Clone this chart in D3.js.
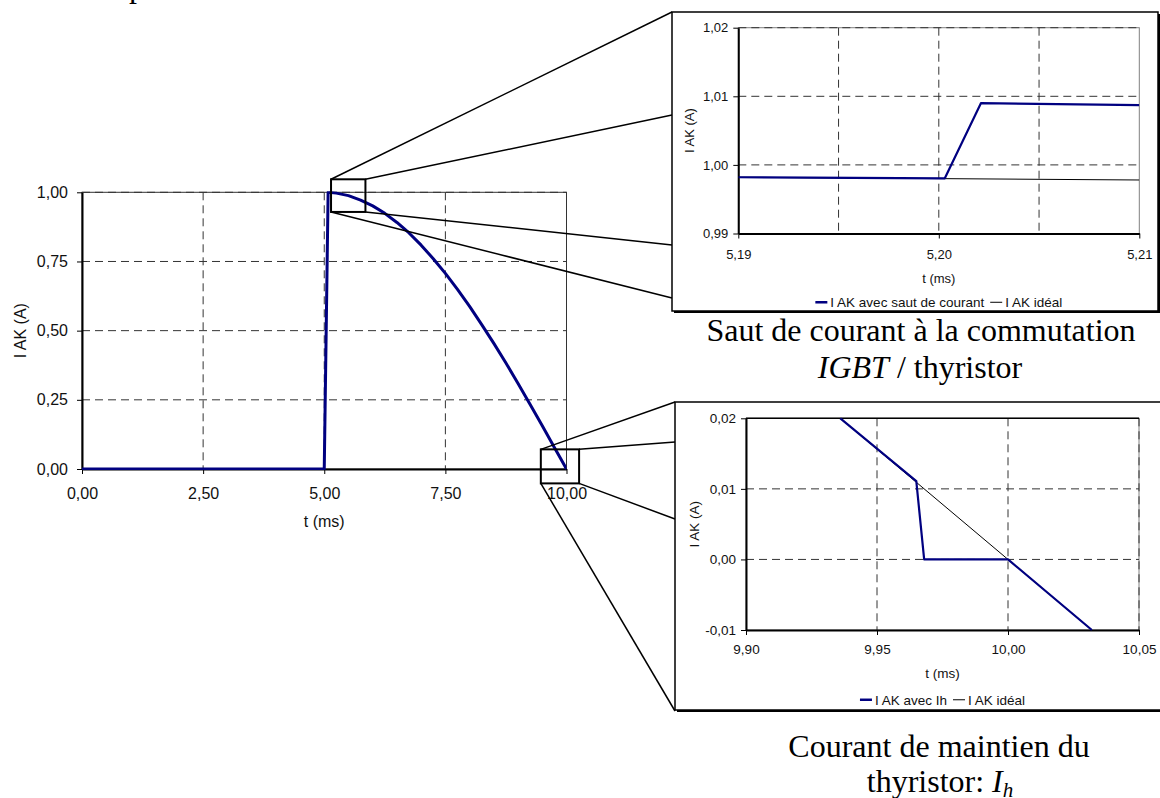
<!DOCTYPE html>
<html>
<head>
<meta charset="utf-8">
<script src="https://cdn.jsdelivr.net/npm/d3@7"></script>
<style>
  html, body { margin: 0; padding: 0; background: #fff; }
  svg { display: block; }
</style>
</head>
<body>
<div id="chart"></div>
<script>
// Main chart: I AK over one half period (t in ms)
const mainT = [0, 5.00, 5.08, 5.25, 5.50, 5.75, 6.00, 6.25, 6.50, 6.75, 7.00, 7.25, 7.50,
               7.75, 8.00, 8.25, 8.50, 8.75, 9.00, 9.25, 9.50, 9.75, 10.00];
const mainI = [0, 0.000, 1.000, 0.997, 0.988, 0.972, 0.951, 0.924, 0.891, 0.853, 0.809, 0.760, 0.707,
               0.649, 0.588, 0.522, 0.454, 0.383, 0.309, 0.233, 0.156, 0.078, 0.000];
const mainXTicks = [0, 2.5, 5, 7.5, 10];
const mainYTicks = [0, 0.25, 0.5, 0.75, 1];

// Zoom 1: current jump at IGBT / thyristor commutation
const jumpT = [5.19, 5.2003, 5.2021, 5.21];
const jumpI = [0.9982, 0.99805, 1.0090, 1.0087];
const ideal1T = [5.19, 5.21];
const ideal1I = [0.9982, 0.9978];
const z1XTicks = [5.19, 5.20, 5.21];
const z1XGrid = [5.195, 5.20, 5.205];
const z1YTicks = [0.99, 1.00, 1.01, 1.02];

// Zoom 2: holding current Ih
const holdT = [9.936, 9.965, 9.968, 10.000, 10.032];
const holdI = [0.020, 0.0111, 0.000, 0.000, -0.010];
const ideal2T = [9.936, 10.032];
const ideal2I = [0.020, -0.010];
const z2XTicks = [9.90, 9.95, 10.00, 10.05];
const z2YTicks = [-0.01, 0.00, 0.01, 0.02];

const legend1 = ["I AK avec saut de courant", "I AK idéal"];
const legend2 = ["I AK avec Ih", "I AK idéal"];

const fmt = d3.formatLocale({decimal: ",", thousands: ".", grouping: [3], currency: ["", ""], minus: "-"}).format(".2f");

const W = 1160, H = 798;
const svg = d3.select("#chart").append("svg")
    .attr("width", W).attr("height", H)
    .style("font-family", "'Liberation Sans', Arial, sans-serif");
svg.append("rect").attr("width", W).attr("height", H).attr("fill", "#fff");

const BLUE = "#000080";
let clipId = 0;

function panel(o) {
    const g = svg.append("g");
    const x = d3.scaleLinear(o.xDomain, [o.left, o.right]);
    const y = d3.scaleLinear(o.yDomain, [o.bottom, o.top]);

    // plot border (top / right)
    g.append("rect")
        .attr("x", o.left).attr("y", o.top)
        .attr("width", o.right - o.left).attr("height", o.bottom - o.top)
        .attr("fill", "none").attr("stroke", o.borderColor || "#808080").attr("stroke-width", 1);

    // dashed grid
    g.append("g").selectAll("line").data(o.xGrid).join("line")
        .attr("x1", d => x(d)).attr("x2", d => x(d))
        .attr("y1", o.top).attr("y2", o.bottom)
        .attr("stroke", "#333").attr("stroke-width", 1).attr("stroke-dasharray", o.dash);
    g.append("g").selectAll("line").data(o.yGrid).join("line")
        .attr("x1", o.left).attr("x2", o.right)
        .attr("y1", d => y(d)).attr("y2", d => y(d))
        .attr("stroke", "#333").attr("stroke-width", 1).attr("stroke-dasharray", o.dash);

    if (o.topSolid) {
        g.append("line").attr("x1", o.left).attr("x2", o.right)
            .attr("y1", o.top).attr("y2", o.top)
            .attr("stroke", "#000").attr("stroke-width", 1.5);
    }

    const id = "clip" + (clipId++);
    g.append("clipPath").attr("id", id).append("rect")
        .attr("x", o.left).attr("y", o.top - 1)
        .attr("width", o.right - o.left).attr("height", o.bottom - o.top + 2);

    const line = d3.line().x(d => x(d[0])).y(d => y(d[1]));
    o.series.forEach(s => {
        g.append("path")
            .datum(d3.zip(s.t, s.v))
            .attr("clip-path", `url(#${id})`)
            .attr("fill", "none")
            .attr("stroke", s.color)
            .attr("stroke-width", s.width)
            .attr("stroke-linejoin", "round")
            .attr("d", line);
    });

    // axes
    const xa = g.append("g").attr("transform", `translate(0,${o.bottom})`)
        .call(d3.axisBottom(x).tickValues(o.xTicks).tickFormat(fmt)
            .tickSize(5).tickSizeOuter(0).tickPadding(o.xPad));
    const ya = g.append("g").attr("transform", `translate(${o.left},0)`)
        .call(d3.axisLeft(y).tickValues(o.yTicks).tickFormat(fmt)
            .tickSize(5).tickSizeOuter(0).tickPadding(o.yPad));
    [xa, ya].forEach(a => {
        a.select(".domain").attr("stroke", "#000").attr("stroke-width", 2);
        a.selectAll(".tick line").attr("stroke", "#000").attr("stroke-width", 1);
        a.selectAll(".tick text").attr("fill", "#111")
            .style("font-family", "'Liberation Sans', Arial, sans-serif")
            .style("font-size", o.fontSize + "px");
    });
    xa.raise();

    // redraw series over the axis line
    g.selectAll("path[clip-path]").raise();

    g.append("text")
        .attr("x", (o.left + o.right) / 2).attr("y", o.xLabelY)
        .attr("text-anchor", "middle").attr("font-size", o.fontSize).attr("fill", "#111")
        .text("t (ms)");
    g.append("text")
        .attr("transform", `translate(${o.yLabelX},${(o.top + o.bottom) / 2}) rotate(-90)`)
        .attr("text-anchor", "middle").attr("font-size", o.fontSize).attr("fill", "#111")
        .text("I AK (A)");

    return {x, y, g};
}

function frame(x0, y0, x1, y1) {
    svg.append("rect").attr("x", x0 + 2).attr("y", y0 + 2)
        .attr("width", x1 - x0).attr("height", y1 - y0).attr("fill", "#000");
    svg.append("rect").attr("x", x0).attr("y", y0)
        .attr("width", x1 - x0).attr("height", y1 - y0)
        .attr("fill", "#fff").attr("stroke", "#000").attr("stroke-width", 1.5);
}

function legend(cx, y, labels, fontSize) {
    const g = svg.append("g");
    const colors = [BLUE, "#000"];
    const widths = [2.5, 1];
    let xpos = 0;
    labels.forEach((lab, i) => {
        g.append("line").attr("x1", xpos).attr("x2", xpos + 12)
            .attr("y1", y - fontSize * 0.35).attr("y2", y - fontSize * 0.35)
            .attr("stroke", colors[i]).attr("stroke-width", widths[i]);
        const t = g.append("text").attr("x", xpos + 15).attr("y", y)
            .attr("font-size", fontSize).attr("fill", "#111").text(lab);
        xpos += 15 + t.node().getComputedTextLength() + 6;
    });
    const w = xpos - 6;
    g.attr("transform", `translate(${cx - w / 2},0)`);
}

// ---------- main chart ----------
const main = panel({
    xDomain: [0, 10], yDomain: [0, 1],
    left: 82, right: 566.5, top: 192.3, bottom: 469,
    xTicks: mainXTicks, yTicks: mainYTicks,
    xGrid: [2.5, 5, 7.5], yGrid: [0.25, 0.5, 0.75, 1],
    dash: "8,5", fontSize: 16, xPad: 13.5, yPad: 9,
    xLabelY: 527, yLabelX: 26, borderColor: "#333",
    series: [
        {t: mainT, v: mainI, color: BLUE, width: 3}
    ]
});

// zoom boxes on the main chart
const box1 = {t0: 5.14, t1: 5.85, i0: 0.929, i1: 1.047};
const box2 = {t0: 9.47, t1: 10.26, i0: -0.052, i1: 0.071};

function zoomBox(b, targets) {
    const x0 = main.x(b.t0), x1 = main.x(b.t1), y0 = main.y(b.i1), y1 = main.y(b.i0);
    const corners = [[x0, y0], [x1, y0], [x1, y1], [x0, y1]];
    corners.forEach((c, i) => {
        svg.append("line").attr("x1", c[0]).attr("y1", c[1])
            .attr("x2", targets[i][0]).attr("y2", targets[i][1])
            .attr("stroke", "#000").attr("stroke-width", 1.5);
    });
    svg.append("rect").attr("x", x0).attr("y", y0)
        .attr("width", x1 - x0).attr("height", y1 - y0)
        .attr("fill", "none").attr("stroke", "#000").attr("stroke-width", 2);
}
zoomBox(box1, [[672, 12], [672, 115], [672, 245], [672, 298]]);
zoomBox(box2, [[675, 402], [675, 442], [675, 519], [675, 711]]);

// ---------- zoom 1 ----------
frame(672, 12, 1158, 311);
panel({
    xDomain: [5.19, 5.21], yDomain: [0.99, 1.02],
    left: 738.3, right: 1139.3, top: 27.7, bottom: 233.5,
    xTicks: z1XTicks, yTicks: z1YTicks,
    xGrid: z1XGrid, yGrid: [1.00, 1.01, 1.02],
    dash: "8,5", fontSize: 13, xPad: 10.8, yPad: 5,
    xLabelY: 282.5, yLabelX: 694, borderColor: "#808080",
    series: [
        {t: ideal1T, v: ideal1I, color: "#000", width: 1},
        {t: jumpT, v: jumpI, color: BLUE, width: 2.2}
    ]
});
legend(938.8, 307, legend1, 13.5);

// ---------- zoom 2 ----------
frame(675, 402, 1166, 710);
panel({
    xDomain: [9.90, 10.05], yDomain: [-0.01, 0.02],
    left: 746, right: 1139, top: 418.3, bottom: 630,
    xTicks: z2XTicks, yTicks: z2YTicks,
    xGrid: [9.95, 10.00, 10.05], yGrid: [0.00, 0.01],
    dash: "8,5", fontSize: 13.5, xPad: 9.9, yPad: 5,
    xLabelY: 677.5, yLabelX: 699, borderColor: "#808080", topSolid: true,
    series: [
        {t: ideal2T, v: ideal2I, color: "#000", width: 1},
        {t: holdT, v: holdI, color: BLUE, width: 2.2}
    ]
});
legend(942.5, 704.5, legend2, 13.5);

// ---------- captions ----------
const serif = "'Liberation Serif', 'Times New Roman', serif";
svg.append("text").attr("x", 129).attr("y", -3.5)
    .style("font-family", serif).attr("font-size", 32).text("p");

svg.append("text").attr("x", 921).attr("y", 341).attr("text-anchor", "middle")
    .style("font-family", serif).attr("font-size", 32).text("Saut de courant à la commutation");
const c1 = svg.append("text").attr("x", 920).attr("y", 378).attr("text-anchor", "middle")
    .style("font-family", serif).attr("font-size", 32);
c1.append("tspan").attr("font-style", "italic").text("IGBT");
c1.append("tspan").text(" / thyristor");

svg.append("text").attr("x", 939).attr("y", 757).attr("text-anchor", "middle")
    .style("font-family", serif).attr("font-size", 32).text("Courant de maintien du");
const c2 = svg.append("text").attr("x", 940).attr("y", 792).attr("text-anchor", "middle")
    .style("font-family", serif).attr("font-size", 32);
c2.append("tspan").text("thyristor: ");
c2.append("tspan").attr("font-style", "italic").text("I");
c2.append("tspan").attr("font-style", "italic").attr("font-size", 21).attr("dy", 5).text("h");
</script>
</body>
</html>
